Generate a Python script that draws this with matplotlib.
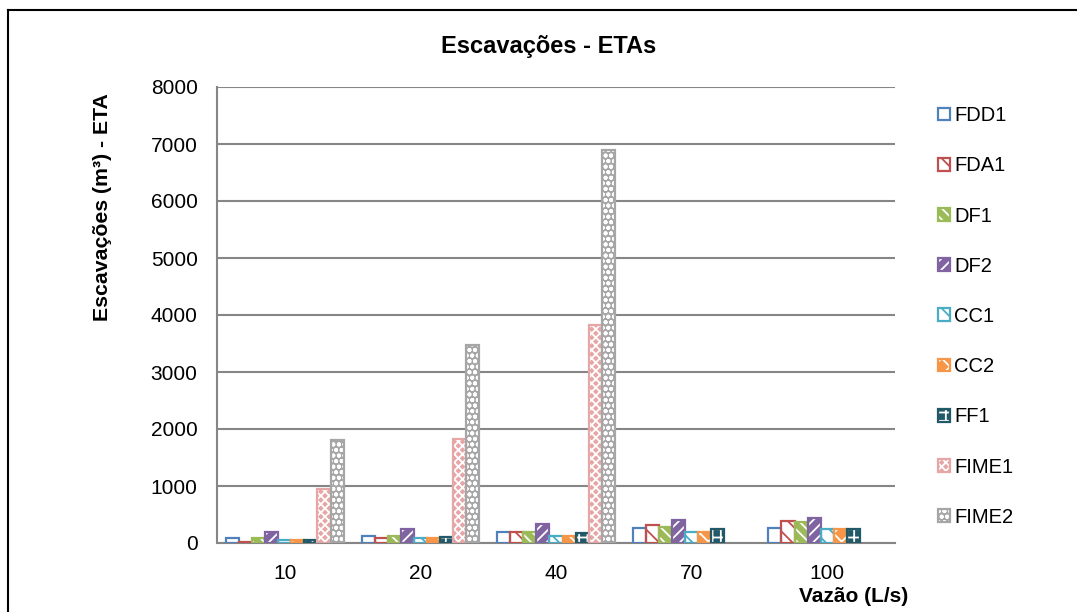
import matplotlib
matplotlib.use("Agg")
import matplotlib.pyplot as plt
import numpy as np
from matplotlib.patches import Patch
from matplotlib.lines import Line2D
from matplotlib.legend_handler import HandlerTuple

categories = ["10", "20", "40", "70", "100"]
series = ["FDD1", "FDA1", "DF1", "DF2", "CC1", "CC2", "FF1", "FIME1", "FIME2"]
FDD1 = [80, 120, 190, 260, 270]
FDA1 = [10, 80, 190, 320, 390]
DF1 = [90, 120, 190, 280, 365]
DF2 = [190, 240, 330, 410, 430]
CC1 = [60, 90, 130, 190, 245]
CC2 = [60, 90, 130, 190, 250]
FF1 = [60, 110, 180, 245, 245]
FIME1 = [950, 1820, 3830, np.nan, np.nan]
FIME2 = [1800, 3480, 6900, np.nan, np.nan]
values = [FDD1, FDA1, DF1, DF2, CC1, CC2, FF1, FIME1, FIME2]
yticks = [0, 1000, 2000, 3000, 4000, 5000, 6000, 7000, 8000]

# style: (face, edge, hatch, hatch colour)
styles = {
    "FDD1": ("white", "#4F81BD", "", "#4F81BD"),
    "FDA1": ("white", "#C0504D", "\\\\", "#C0504D"),
    "DF1": ("#9BBB59", "#9BBB59", "\\\\\\", "white"),
    "DF2": ("#8064A2", "#8064A2", "///", "white"),
    "CC1": ("white", "#4BACC6", "\\\\", "#4BACC6"),
    "CC2": ("#F79646", "#F79646", "xx", "white"),
    "FF1": ("#215968", "#215968", "++", "white"),
    "FIME1": ("#E6A6A5", "#E6A6A5", "xxxx", "white"),
    "FIME2": ("#A6A6A6", "#A6A6A6", "ooo", "white"),
}

plt.rcParams["font.family"] = ["Liberation Sans", "DejaVu Sans"]
plt.rcParams["hatch.linewidth"] = 1.3

W, H = 1077, 612
fig = plt.figure(figsize=(W / 100, H / 100), dpi=100)
ax = fig.add_axes([217 / W, 1 - 543 / H, 678 / W, 456 / H])

x = np.arange(len(categories))
bw = 0.0964
n = len(series)
handles = []
for i, (name, vals) in enumerate(zip(series, values)):
    fc, ec, hatch, hc = styles[name]
    pos = x + (i - (n - 1) / 2) * bw
    ax.bar(pos, vals, bw, color=fc, edgecolor=ec, linewidth=0, zorder=3)
    if hatch:
        ax.bar(pos, vals, bw, color="none", edgecolor=hc, hatch=hatch, linewidth=0, zorder=4)
    ax.bar(pos, vals, bw, color="none", edgecolor=ec, linewidth=1.6, zorder=5)
    h1 = Patch(facecolor=fc, edgecolor=ec, linewidth=0)
    h2 = Patch(facecolor="none", edgecolor=hc, hatch=hatch, linewidth=0)
    h3 = Patch(facecolor="none", edgecolor=ec, linewidth=1.6)
    handles.append((h1, h2, h3))

ax.set_xlim(-0.5, len(categories) - 0.5)
ax.set_ylim(0, 8000)
ax.set_yticks(yticks)
ax.set_xticks(x)
ax.set_xticklabels(categories)
ax.tick_params(axis="both", length=0, labelsize=15, colors="black")
ax.tick_params(axis="y", pad=14)
ax.tick_params(axis="x", pad=15)
ax.grid(axis="y", color="#868686", linewidth=1.5, zorder=0)
for s in ["top", "right"]:
    ax.spines[s].set_visible(False)
for s in ["left", "bottom"]:
    ax.spines[s].set_color("#868686")
    ax.spines[s].set_linewidth(1.5)

fig.text(549 / W, 1 - 46 / H, "Escavações - ETAs", ha="center", va="center",
         fontsize=17, fontweight="bold")
fig.text(103 / W, 1 - 207 / H, "Escavações (m³) - ETA", ha="center", va="center",
         rotation=90, fontsize=15.3, fontweight="bold")
fig.text(908 / W, 1 - 597 / H, "Vazão (L/s)", ha="right", va="center",
         fontsize=15, fontweight="bold")

leg = fig.legend(handles, series, loc="upper left",
                 bbox_to_anchor=(928 / W, 1 - 96 / H), frameon=False,
                 fontsize=14.5, handlelength=0.6, handleheight=0.6,
                 handletextpad=0.2, labelspacing=1.55, borderpad=0,
                 handler_map={tuple: HandlerTuple(ndivide=1)})

# outer frame (right and bottom edges are outside the image)
fig.add_artist(Line2D([8 / W, 8 / W], [-0.1, 1 - 10 / H], color="black", linewidth=1.5,
                      transform=fig.transFigure))
fig.add_artist(Line2D([8 / W, 1.1], [1 - 10 / H, 1 - 10 / H], color="black", linewidth=1.5,
                      transform=fig.transFigure))

fig.savefig("out.png", dpi=100)
